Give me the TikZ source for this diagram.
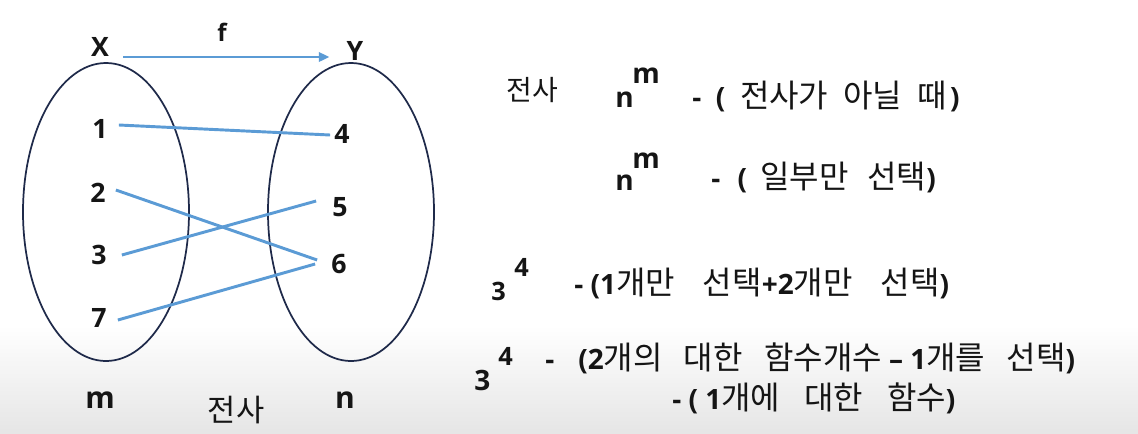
\documentclass[tikz,border=0pt]{standalone}
\usepackage{fontspec}
\setmainfont{Open Sans}
\newfontfamily\kr{Noto Sans CJK KR}
\usetikzlibrary{arrows.meta}
\definecolor{lineblue}{HTML}{5B9BD5}
\definecolor{setnavy}{HTML}{1F2A4A}
\definecolor{ink}{HTML}{151515}
\newcommand\K[1]{{\fontsize{24}{28}\selectfont\mdseries\kr #1}}
\newcommand\gap[1]{\hspace{#1pt}}
\begin{document}
\begin{tikzpicture}[x=0.75pt,y=-0.75pt,
  lab/.style={font=\fontsize{20}{24}\selectfont\bfseries, text=ink, inner sep=0pt},
  sup/.style={font=\fontsize{19}{22}\selectfont\bfseries, text=ink, inner sep=0pt},
  big/.style={font=\fontsize{22.5}{26}\selectfont\bfseries, text=ink, inner sep=0pt},
  pw/.style={font=\fontsize{21}{24}\selectfont\bfseries, text=ink, inner sep=0pt},
  kt/.style={font=\fontsize{21}{25}\selectfont\bfseries, text=ink, inner sep=0pt},
  link/.style={draw=lineblue, line width=2.2pt},
  setline/.style={draw=setnavy, line width=1.3pt}]
\useasboundingbox (0,0) rectangle (1138,433);
\shade[top color=white, bottom color=black!10] (0,325) rectangle (1138,433);
% sets
\draw[setline] (106,212) ellipse [x radius=83, y radius=149];
\draw[setline] (351,212) ellipse [x radius=83, y radius=149];
% labels
\node[lab] (X) at (100,47) {X};
\node[lab] (Y) at (355,51) {Y};
\node[lab, font=\fontsize{18}{22}\selectfont\bfseries] (f) at (222,32) {f};
\node[lab] (n1) at (100,129) {1};
\node[lab] (n2) at (98,193) {2};
\node[lab] (n3) at (99,255) {3};
\node[lab] (n7) at (99,318) {7};
\node[lab] (n4) at (342,134) {4};
\node[lab] (n5) at (340,207) {5};
\node[lab] (n6) at (339,264) {6};
\node[big] (m) at (100,400) {m};
\node[big] (n) at (345,400) {n};
\node[kt] (bot) at (236,410) {{\fontsize{23}{27}\selectfont\mdseries\kr 전사}};
% arrow f
\draw[link,-{Triangle[length=8pt,width=7pt]}] ([shift={(14,10)}]X.east) -- ([shift={(-17,6)}]Y.west);
% mapping
\draw[link] ([shift={(11,-4)}]n1.east) -- ([shift={(-4,1)}]n4.west);
\draw[link] ([shift={(10,-3)}]n2.east) -- ([shift={(-14,-4)}]n6.west);
\draw[link] ([shift={(15,0)}]n3.east) -- ([shift={(-16,-6)}]n5.west);
\draw[link] ([shift={(11,2)}]n7.east) -- ([shift={(-16,0)}]n6.west);
% right text
\node[kt] (t0) at (532,90) {{\fontsize{21}{25}\selectfont\mdseries\kr 전사}};
\node[pw, anchor=base west] (b1) at (615,107) {n};
\node[pw, anchor=base west] (e1) at (632,83) {m};
\node[kt, anchor=west] (t1) at (692,96) {-\gap{11}(\gap{11}\K{전사가}\gap{11}\K{아닐}\gap{12}\K{때}\gap{2})};
\node[pw, anchor=base west] (b2) at (615,190) {n};
\node[pw, anchor=base west] (e2) at (632,168) {m};
\node[kt, anchor=west] (t2) at (711,177) {-\gap{13}(\gap{10}\K{일부만}\gap{14}\K{선택})};
\node[sup, anchor=base west] (b3) at (491,300) {3};
\node[sup, anchor=base west] (e3) at (514,276) {4};
\node[kt, anchor=west] (t3) at (574,283) {- (1\K{개만}\gap{21}\K{선택}+2\K{개만}\gap{21}\K{선택})};
\node[pw, anchor=base west] (b4) at (474,390) {3};
\node[sup, anchor=base west] (e4) at (498,365) {4};
\node[kt, anchor=west] (t4) at (545,358) {-\gap{18}(2\K{개의}\gap{16}\K{대한}\gap{16}\K{함수개수} – 1\K{개를}\gap{16}\K{선택})};
\node[kt, anchor=west] (t5) at (672,398) {- ( 1\K{개에}\gap{18}\K{대한}\gap{18}\K{함수})};
\end{tikzpicture}
\end{document}
